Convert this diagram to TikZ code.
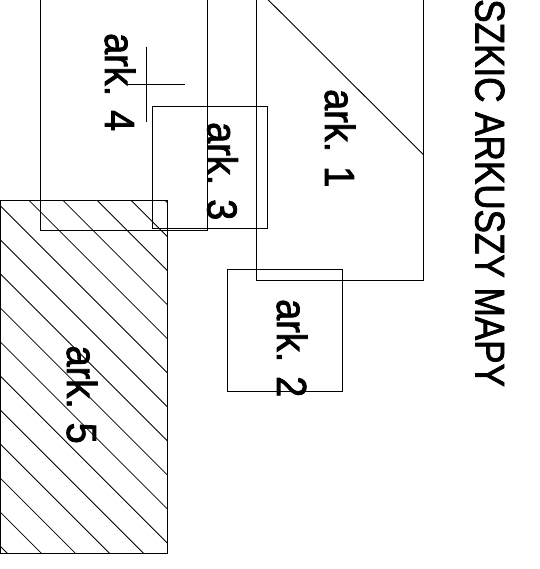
\documentclass[tikz,border=0pt]{standalone}
\usepackage{fontspec}
\setmainfont{Liberation Sans}
\newfontfamily\sketchfont[FakeBold=2]{Liberation Sans}
\usepackage{graphicx}
\newcommand\arklbl[1]{\scalebox{0.9}[1]{#1}}
\begin{document}
\begin{tikzpicture}[x=1pt,y=-1pt,
  sheet/.style={draw=black,line width=0.9pt},
  hatchline/.style={draw=black,line width=0.8pt},
  lbl/.style={anchor=base west,rotate=-90,inner sep=0pt,font=\sketchfont\fontsize{42}{50}\selectfont},
  ttl/.style={anchor=base west,rotate=-90,inner sep=0pt,font=\sketchfont\fontsize{41.5}{50}\selectfont}]
\useasboundingbox (0,0) rectangle (539,569);
\clip (0,0) rectangle (539,569);
% corners of the sheets
\coordinate (s5a) at (0.7,200.7);   \coordinate (s5b) at (167.3,553.3);
\coordinate (s4a) at (40,-20);      \coordinate (s4b) at (207,230);
\coordinate (s3a) at (152.7,106.7); \coordinate (s3b) at (267.7,228.3);
\coordinate (s1a) at (256,-12.3);   \coordinate (s1b) at (423.3,280.7);
\coordinate (s1d) at (423.3,154.5);
\coordinate (s2a) at (227,269.7);   \coordinate (s2b) at (342.3,391);
% ark. 5 hatching
\begin{scope}
  \clip (s5a) rectangle (s5b);
  \foreach \k in {-12,...,5} {
    \draw[hatchline] ({-171.4+34.05*\k+100},100) -- ({-171.4+34.05*\k+700},700);
  }
\end{scope}
\draw[sheet] (s5a) rectangle (s5b);
\draw[sheet] (s4a) rectangle (s4b);
\draw[sheet] (s3a) rectangle (s3b);
\draw[sheet] (s1a) rectangle (s1b);
\draw[sheet] (s1a) -- (s1d);
\draw[sheet] (s2a) rectangle (s2b);
% cross mark
\coordinate (cv1) at (146.7,46.7); \coordinate (cv2) at (146.7,121.7);
\coordinate (ch1) at (126.7,84);   \coordinate (ch2) at (185,84);
\draw[sheet] (cv1) -- (cv2);
\draw[sheet] (ch1) -- (ch2);
% labels
\node[lbl] (l4) at (105,33) {\arklbl{ark. 4}};
\node[lbl] (l3) at (207.5,122) {\arklbl{ark. 3}};
\node[lbl] (l1) at (325,89) {\arklbl{ark. 1}};
\node[lbl] (l2) at (277,299) {\arklbl{ark. 2}};
\node[lbl] (l5) at (67,345.5) {\arklbl{ark. 5}};
\node[ttl] (title) at (475.5,-1) {\scalebox{0.845}[1]{SZKIC ARKUSZY MAPY}};
\end{tikzpicture}
\end{document}
